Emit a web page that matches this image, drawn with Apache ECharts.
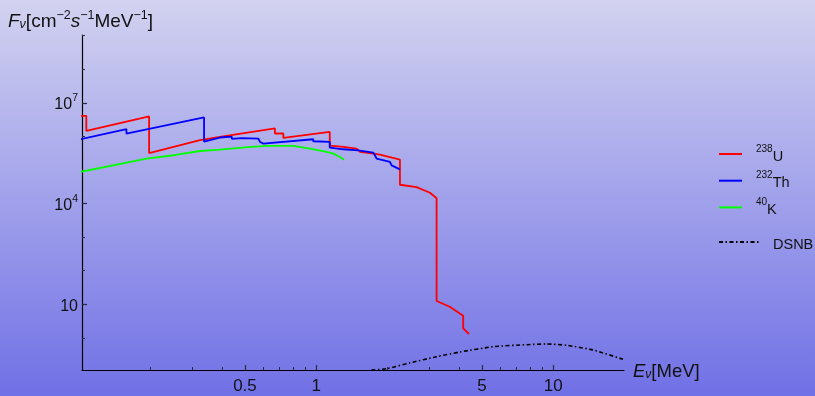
<!DOCTYPE html>
<html><head><meta charset="utf-8">
<script src="https://cdn.jsdelivr.net/npm/echarts@6/dist/echarts.min.js"></script>
<style>html,body{margin:0;padding:0;background:#fff;}#c{width:815px;height:396px;}</style>
</head><body><div id="c"></div>
<script>
// ---- data (E in MeV, flux in cm^-2 s^-1 MeV^-1) ----
const seriesNames = ['238U', '232Th', '40K', 'DSNB'];
const uE = [0.1, 0.107, 0.107, 0.197, 0.197, 0.323, 0.392, 0.669, 0.669, 0.726, 0.726, 1.14, 1.14, 1.30, 1.48, 1.53, 1.74, 1.857, 2.045, 2.255, 2.255, 2.65, 3.02, 3.22, 3.22, 3.66, 4.17, 4.17, 4.41];
const uF = [4.1e6, 4.1e6, 1.46e6, 3.95e6, 3.2e5, 7.7e5, 9.7e5, 1.73e6, 1.22e6, 1.22e6, 9.0e5, 1.36e6, 5.3e5, 4.85e5, 4.35e5, 3.44e5, 3.08e5, 2.87e5, 2.43e5, 2.03e5, 3.63e4, 3.08e4, 2.1e4, 1.44e4, 12.5, 8.45, 4.56, 1.92, 1.3];
const thE = [0.1, 0.158, 0.158, 0.336, 0.336, 0.392, 0.44, 0.44, 0.485, 0.485, 0.569, 0.579, 0.598, 0.971, 0.971, 1.14, 1.14, 1.30, 1.504, 1.529, 1.74, 1.767, 1.798, 2.046, 2.08, 2.255];
const thF = [8.07e5, 1.64e6, 1.22e6, 3.68e6, 7.03e5, 9.27e5, 9.8e5, 8.5e5, 8.9e5, 7.9e5, 8.65e5, 6.84e5, 6.12e5, 8.24e5, 7.18e5, 6.84e5, 4.66e5, 4.14e5, 3.86e5, 3.44e5, 3.30e5, 2.74e5, 2.18e5, 1.73e5, 1.37e5, 1.04e5];
const kE = [0.1, 0.192, 0.25, 0.323, 0.392, 0.5, 0.618, 0.80, 0.94, 1.106, 1.18, 1.259, 1.31];
const kF = [8.65e4, 2.18e5, 2.75e5, 3.68e5, 4.06e5, 4.7e5, 5.2e5, 5.2e5, 4.35e5, 3.44e5, 3.08e5, 2.43e5, 2.03e5];
const dsnbE = [1.71, 1.98, 2.49, 3.22, 4.04, 5.58, 7.72, 9.39, 11.38, 14.75, 19.7];
const dsnbF = [0.11, 0.12, 0.18, 0.274, 0.378, 0.545, 0.624, 0.655, 0.598, 0.434, 0.229];
// ---- ticks ----
const xMajorTicks = [0.5, 1, 5, 10];
const xMinorTicks = [0.2, 0.3, 0.4, 0.6, 0.7, 0.8, 0.9, 2, 3, 4, 6, 7, 8, 9];
const yMajorTicks = [10, 1e4, 1e7];
const yMinorTicks = [1, 100, 1000, 1e5, 1e6, 1e8, 1e9];

const pairs = (xs, ys) => xs.map((x, i) => [x, ys[i]]);
const FONT = 'Liberation Sans';
const TICK = '#2a2a3a';
const supRich = {
  b: {fontSize: 16, fontFamily: FONT, color: '#111', lineHeight: 20, verticalAlign: 'bottom'},
  sup: {fontSize: 10.5, fontFamily: FONT, color: '#111', lineHeight: 10, verticalAlign: 'top'}
};
const legendRich = {
  sp: {width: 9},
  b: {fontSize: 14.5, fontFamily: FONT, color: '#111', lineHeight: 20, verticalAlign: 'bottom'},
  sup: {fontSize: 10, fontFamily: FONT, color: '#111', lineHeight: 10, verticalAlign: 'top'}
};
const legendLabel = {
  '238U': '{sp|}{sup|238}{b|U}',
  '232Th': '{sp|}{sup|232}{b|Th}',
  '40K': '{sp|}{sup|40}{b|K}',
  'DSNB': '{sp2|}{b|DSNB}'
};
const xMin = 0.1026, xMax = 19.9, yMin = 0.11, yMax = 1.05e9;
const gridBox = {left: 82, top: 35, width: 542, height: 335};

const option = {
  animation: false,
  graphic: [
    {type: 'rect', left: 0, top: 0, z: -100, silent: true,
     shape: {width: 815, height: 396},
     style: {fill: {type: 'linear', x: 0, y: 0, x2: 0, y2: 1,
       colorStops: [{offset: 0, color: 'rgb(210,210,240)'}, {offset: 1, color: 'rgb(112,112,230)'}]}}},
    {type: 'text', left: 8, top: 9, z: 10,
     style: {text: '{i|F}{sub|ν}{b|[cm}{sup|−2}{i|s}{sup|−1}{b|MeV}{sup|−1}{b|]}',
       rich: {
         i: {fontSize: 19, fontFamily: FONT, fontStyle: 'italic', fill: '#111', lineHeight: 22, verticalAlign: 'bottom'},
         b: {fontSize: 19, fontFamily: FONT, fill: '#111', lineHeight: 22, verticalAlign: 'bottom'},
         sup: {fontSize: 12.5, fontFamily: FONT, fill: '#111', lineHeight: 11, verticalAlign: 'top'},
         sub: {fontSize: 12.5, fontFamily: FONT, fontStyle: 'italic', fill: '#111', lineHeight: 13, verticalAlign: 'bottom'}
       }}},
    {type: 'text', left: 633, top: 362, z: 10,
     style: {text: '{i|E}{sub|ν}{b|[MeV]}',
       rich: {
         i: {fontSize: 18.5, fontFamily: FONT, fontStyle: 'italic', fill: '#111', lineHeight: 21, verticalAlign: 'bottom'},
         b: {fontSize: 18.5, fontFamily: FONT, fill: '#111', lineHeight: 21, verticalAlign: 'bottom'},
         sub: {fontSize: 12, fontFamily: FONT, fontStyle: 'italic', fill: '#111', lineHeight: 12, verticalAlign: 'bottom'}
       }}}
  ],
  grid: Object.assign({outerBoundsMode: 'none', containLabel: false}, gridBox),
  legend: [
    {data: ['238U', '232Th', '40K'], orient: 'vertical', left: 718, top: 144, padding: 0,
     itemWidth: 23, itemHeight: 14, itemGap: 6.7, formatter: n => legendLabel[n],
     itemStyle: {opacity: 0, borderWidth: 0},
     textStyle: {rich: legendRich}},
    {data: ['DSNB'], orient: 'vertical', left: 718, top: 236, padding: 0,
     itemWidth: 42, itemHeight: 14, formatter: n => legendLabel[n],
     itemStyle: {opacity: 0, borderWidth: 0},
     textStyle: {rich: Object.assign({sp2: {width: 7}}, legendRich)}}
  ],
  xAxis: [
    {type: 'log', logBase: 10, min: xMin, max: xMax, gridIndex: 0, position: 'bottom',
     axisLine: {show: true, lineStyle: {color: '#000', width: 1.2}},
     axisTick: {show: true, inside: true, length: 5, customValues: xMajorTicks, lineStyle: {color: TICK, width: 1.2}},
     axisLabel: {show: true, customValues: xMajorTicks, margin: 8, fontSize: 17, fontFamily: FONT, color: '#111',
       formatter: v => String(+v.toPrecision(3))},
     splitLine: {show: false}, minorTick: {show: false}},
    {type: 'log', logBase: 10, min: xMin, max: xMax, gridIndex: 0, position: 'bottom',
     axisLine: {show: false},
     axisTick: {show: true, inside: true, length: 3, customValues: xMinorTicks, lineStyle: {color: TICK, width: 1}},
     axisLabel: {show: false}, splitLine: {show: false}}
  ],
  yAxis: [
    {type: 'log', logBase: 10, min: yMin, max: yMax, gridIndex: 0, position: 'left',
     axisLine: {show: true, lineStyle: {color: '#000', width: 1.2}},
     axisTick: {show: true, inside: true, length: 5, customValues: yMajorTicks, lineStyle: {color: TICK, width: 1.2}},
     axisLabel: {show: true, customValues: yMajorTicks, margin: 4, rich: supRich,
       formatter: v => {
         const e = Math.round(Math.log10(v));
         return e === 1 ? '{b|10}' : '{b|10}{sup|' + e + '}';
       }},
     splitLine: {show: false}},
    {type: 'log', logBase: 10, min: yMin, max: yMax, gridIndex: 0, position: 'left',
     axisLine: {show: false},
     axisTick: {show: true, inside: true, length: 3, customValues: yMinorTicks, lineStyle: {color: TICK, width: 1}},
     axisLabel: {show: false}, splitLine: {show: false}}
  ],
  series: [
    {name: seriesNames[0], type: 'line', symbol: 'none', xAxisIndex: 0, yAxisIndex: 0,
     data: pairs(uE, uF), lineStyle: {color: '#ff0000', width: 1.8}, itemStyle: {color: '#ff0000'}},
    {name: seriesNames[1], type: 'line', symbol: 'none', xAxisIndex: 0, yAxisIndex: 0,
     data: pairs(thE, thF), lineStyle: {color: '#0000ff', width: 1.8}, itemStyle: {color: '#0000ff'}},
    {name: seriesNames[2], type: 'line', symbol: 'none', xAxisIndex: 0, yAxisIndex: 0,
     data: pairs(kE, kF), lineStyle: {color: '#00ff00', width: 1.8}, itemStyle: {color: '#00ff00'}},
    {name: seriesNames[3], type: 'line', symbol: 'none', xAxisIndex: 0, yAxisIndex: 0, smooth: 0.2,
     data: pairs(dsnbE, dsnbF), lineStyle: {color: '#000', width: 1.6, type: [4, 2.5, 1.5, 2.5]}, itemStyle: {color: '#000'}}
  ]
};
const chart = echarts.init(document.getElementById('c'), null, {renderer: 'canvas'});
chart.setOption(option);
</script>
</body></html>
